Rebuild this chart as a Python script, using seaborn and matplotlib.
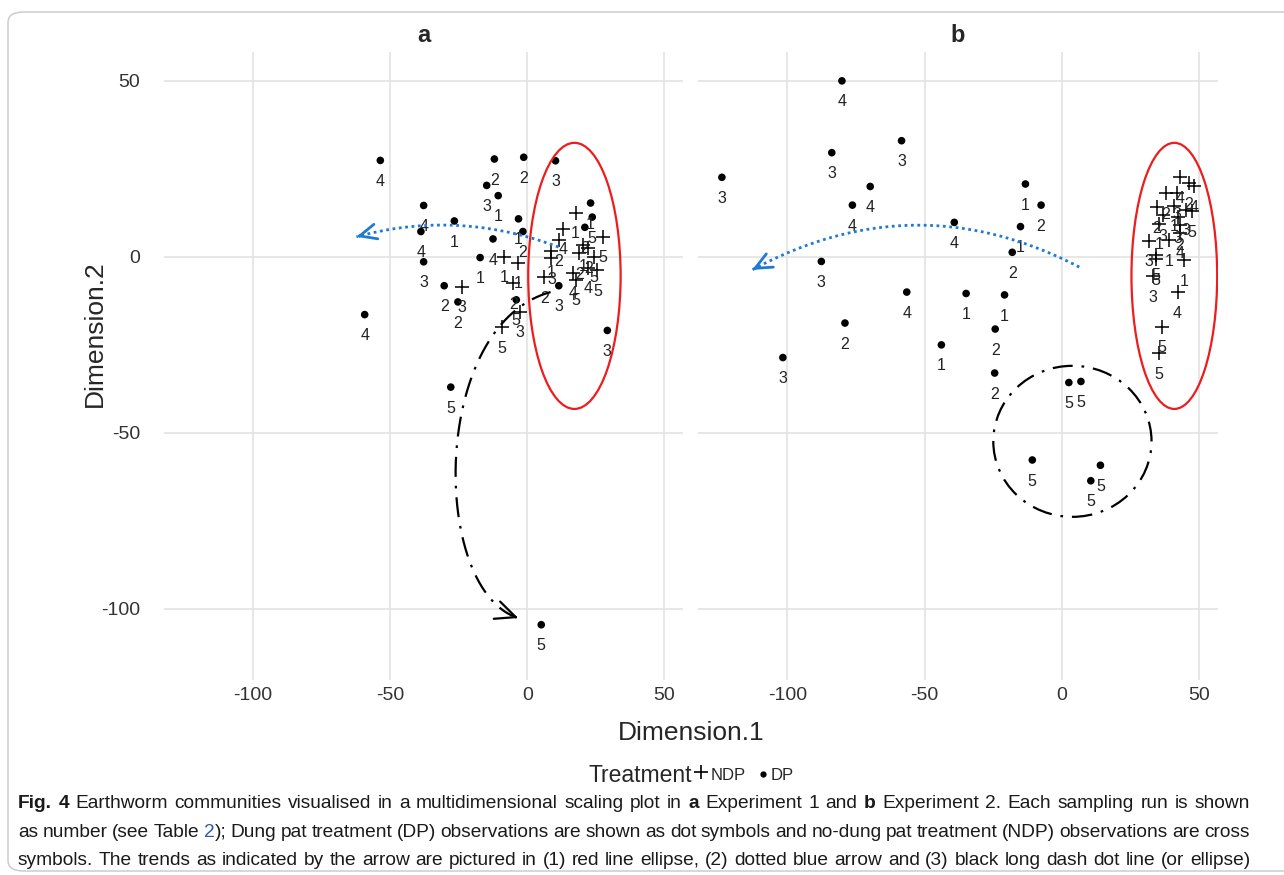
import numpy as np
import pandas as pd
import matplotlib
matplotlib.use("Agg")
import matplotlib.pyplot as plt
import seaborn as sns
from matplotlib.patches import Ellipse, FancyBboxPatch
from matplotlib.lines import Line2D

# ---------------- data ----------------
a_dp_x = [-53.6, -12.0, -14.8, -1.3, 10.3, -10.6, -37.8, -26.6, -3.2, -1.6, -38.8, -12.5, -37.8,
          -17.2, -30.3, -25.3, -59.3, -4.0, -27.9, 5.1, 29.2, 23.1, 23.7, 21.0, 11.5]
a_dp_y = [27.4, 27.8, 20.3, 28.3, 27.3, 17.4, 14.6, 10.2, 10.8, 7.2, 7.2, 5.1, -1.4,
          -0.2, -8.2, -12.8, -16.4, -12.2, -37.0, -104.5, -20.9, 15.3, 11.3, 8.4, -8.2]
a_dp_run = [4, 2, 3, 2, 3, 1, 4, 1, 1, 2, 4, 4, 3, 1, 2, 2, 4, 5, 5, 5, 3, 1, 5, 2, 3]

a_ndp_x = [-23.8, -8.4, -3.3, -5.1, -2.6, -9.2, 6.2, 8.8, 8.8, 11.4, 13.2, 17.6, 27.5,
           22.3, 19.0, 24.2, 22.3, 25.6, 16.8, 17.6, 20.5]
a_ndp_y = [-8.5, 0.0, -1.7, -7.4, -15.6, -19.9, -5.7, 1.7, -0.3, 4.8, 8.0, 12.5, 5.7,
           2.6, 1.1, 0.0, -3.1, -3.7, -4.5, -6.5, 3.4]
a_ndp_run = [3, 1, 1, 2, 3, 5, 2, 1, 3, 2, 4, 1, 5, 2, 2, 5, 4, 5, 4, 5, 1]

b_dp_x = [-80.1, -58.4, -83.8, -123.8, -69.8, -76.3, -13.3, -7.6, -15.1, -39.2, -18.1, -87.6, -56.5,
          -34.9, -20.9, -79.0, -24.3, -43.9, -24.5, -101.6, 2.5, 6.9, -10.8, 14.0, 10.5]
b_dp_y = [50.0, 33.0, 29.6, 22.6, 20.0, 14.7, 20.7, 14.7, 8.6, 9.8, 1.3, -1.3, -10.0,
          -10.4, -10.8, -18.8, -20.5, -25.0, -33.0, -28.6, -35.7, -35.4, -57.7, -59.2, -63.6]
b_dp_run = [4, 3, 3, 3, 4, 4, 1, 2, 1, 4, 2, 3, 4, 1, 1, 2, 2, 1, 2, 3, 5, 5, 5, 5, 5]

b_ndp_x = [43.1, 46.1, 48.2, 37.9, 41.8, 34.5, 40.9, 45.2, 47.4, 36.7, 35.5, 42.8, 42.1,
           39.1, 31.6, 43.1, 34.3, 34.3, 44.6, 33.1, 42.1, 36.5, 35.3]
b_ndp_y = [22.6, 20.9, 20.0, 18.1, 18.1, 14.1, 14.5, 13.4, 12.9, 11.9, 9.4, 9.1, 11.3,
           4.8, 4.6, 6.9, 0.6, -0.7, -0.9, -5.4, -10.1, -19.8, -27.4]
b_ndp_run = [4, 2, 4, 2, 3, 2, 1, 3, 5, 3, 1, 2, 3, 1, 3, 4, 5, 5, 1, 3, 4, 5, 5]

x_ticks = [-100, -50, 0, 50]
y_ticks = [-100, -50, 0, 50]

frames = []
for exp, tr, xs, ys, rs in [("a", "DP", a_dp_x, a_dp_y, a_dp_run),
                            ("a", "NDP", a_ndp_x, a_ndp_y, a_ndp_run),
                            ("b", "DP", b_dp_x, b_dp_y, b_dp_run),
                            ("b", "NDP", b_ndp_x, b_ndp_y, b_ndp_run)]:
    frames.append(pd.DataFrame({"Experiment": exp, "Treatment": tr,
                                "Dimension.1": xs, "Dimension.2": ys, "Run": rs}))
df = pd.concat(frames, ignore_index=True)

# ---------------- figure ----------------
sns.set_theme(style="white")
plt.rcParams["font.family"] = ["Liberation Sans", "DejaVu Sans"]

W, H = 1284, 875
fig = plt.figure(figsize=(W / 100, H / 100), dpi=100)
fig.patch.set_facecolor("white")


def fr(l, t, r, b):
    return [l / W, 1 - b / H, (r - l) / W, (b - t) / H]


# caption frame
fig.add_artist(FancyBboxPatch((8 / W, 1 - 871 / H), 1300 / W, 859 / H,
                              boxstyle="round,pad=0,rounding_size=0.012",
                              transform=fig.transFigure, fill=False,
                              edgecolor="#c8c8c8", linewidth=1.0))

axA = fig.add_axes(fr(164, 52, 683, 680))
axB = fig.add_axes(fr(698, 52, 1218, 680))
XLIM = (-132.5, 56.8)
YLIM = (-120.2, 58.2)

for ax, exp in [(axA, "a"), (axB, "b")]:
    sub = df[df["Experiment"] == exp]
    dp = sub[sub["Treatment"] == "DP"]
    ndp = sub[sub["Treatment"] == "NDP"]
    sns.scatterplot(data=dp, x="Dimension.1", y="Dimension.2", marker="o", s=30,
                    color="black", edgecolor="none", ax=ax, legend=False, zorder=3)
    sns.scatterplot(data=ndp, x="Dimension.1", y="Dimension.2", marker="+", s=105,
                    color="black", linewidth=1.1, ax=ax, legend=False, zorder=3)
    for _, r in sub.iterrows():
        ax.text(r["Dimension.1"], r["Dimension.2"] - 6.0, str(r["Run"]), ha="center",
                va="center", fontsize=11.5, color="#222222", zorder=3)
    ax.set_xlim(*XLIM)
    ax.set_ylim(*YLIM)
    ax.set_xticks(x_ticks)
    ax.set_yticks(y_ticks)
    ax.set_xticklabels([str(v) for v in x_ticks])
    ax.grid(True, color="#e3e3e3", linewidth=1.2)
    ax.set_axisbelow(True)
    for s in ax.spines.values():
        s.set_visible(False)
    ax.tick_params(axis="both", length=0, labelsize=14, labelcolor="#333333")
    ax.tick_params(axis="x", pad=5)
    ax.tick_params(axis="y", pad=17)
    ax.set_xlabel("")
    ax.set_ylabel("")
    ax.set_facecolor("white")

axA.set_yticklabels([str(v) for v in y_ticks])
axB.set_yticklabels([])


def bez(P, n=300):
    P = np.asarray(P, float)
    t = np.linspace(0, 1, n)[:, None]
    if len(P) == 3:
        return (1 - t) ** 2 * P[0] + 2 * t * (1 - t) * P[1] + t ** 2 * P[2]
    return ((1 - t) ** 3 * P[0] + 3 * (1 - t) ** 2 * t * P[1]
            + 3 * (1 - t) * t ** 2 * P[2] + t ** 3 * P[3])


def curved_arrow(ax, P, color, ls, lw, hl, hw):
    c = bez(P)
    ax.plot(c[:, 0], c[:, 1], color=color, ls=ls, lw=lw, zorder=4,
            solid_capstyle="butt", dash_capstyle="butt")
    ax.annotate("", xy=(c[-1, 0], c[-1, 1]), xytext=(c[-6, 0], c[-6, 1]),
                arrowprops=dict(arrowstyle=f"->,head_length={hl},head_width={hw}",
                                color=color, lw=lw, shrinkA=0, shrinkB=0), zorder=4)


blue = "#1f7ad1"
dashdot = (0, (9, 4, 1.2, 4))

# panel a annotations
axA.add_patch(Ellipse((17.2, -5.4), 33.7, 75.6, fill=False, edgecolor="#ee1c1c", lw=1.6, zorder=4))
curved_arrow(axA, [(11.4, 2.8), (-25.5, 13.6), (-62.3, 5.7)], blue, (0, (1, 1.3)), 2.0, 1.0, 0.45)
curved_arrow(axA, [(8.5, -10.0), (-35.5, -19.3), (-35.5, -94.6), (-3.3, -102.6)],
             "black", dashdot, 1.6, 1.2, 0.55)

# panel b annotations
axB.add_patch(Ellipse((40.9, -5.4), 31.2, 75.6, fill=False, edgecolor="#ee1c1c", lw=1.6, zorder=4))
curved_arrow(axB, [(6.3, -2.9), (-53.4, 21.3), (-112.8, -3.7)], blue, (0, (1, 1.3)), 2.0, 1.0, 0.45)
axB.add_patch(Ellipse((3.8, -52.4), 57.6, 42.9, fill=False, edgecolor="black", lw=1.6,
                      ls=dashdot, zorder=4))

# facet titles & axis titles
fig.text(423.5 / W, 1 - 35 / H, "a", ha="center", va="center", fontsize=17, fontweight="bold")
fig.text(958 / W, 1 - 35 / H, "b", ha="center", va="center", fontsize=17, fontweight="bold")
fig.text(691 / W, 1 - 733 / H, "Dimension.1", ha="center", va="center", fontsize=19)
fig.text(95 / W, 1 - 334 / H, "Dimension.2", ha="center", va="center", fontsize=19, rotation=90)

# legend
fig.text(640 / W, 1 - 776 / H, "Treatment", ha="center", va="center", fontsize=16.5)
fig.add_artist(Line2D([701 / W], [1 - 772 / H], marker="+", ms=10, mew=1.2, color="black",
                      transform=fig.transFigure))
fig.text(711 / W, 1 - 775 / H, "NDP", ha="left", va="center", fontsize=12)
fig.add_artist(Line2D([763 / W], [1 - 774 / H], marker="o", ms=4.5, mew=0, color="black",
                      transform=fig.transFigure))
fig.text(771 / W, 1 - 775 / H, "DP", ha="left", va="center", fontsize=12)

# caption (justified)
cap_fam = ["Liberation Sans Narrow", "Liberation Sans", "DejaVu Sans"]
B = "bold"
N = "normal"
line1 = [[("Fig.", B)], [("4", B)], [("Earthworm", N)], [("communities", N)], [("visualised", N)],
         [("in", N)], [("a", N)], [("multidimensional", N)], [("scaling", N)], [("plot", N)],
         [("in", N)], [("a", B)], [("Experiment", N)], [("1", N)], [("and", N)], [("b", B)],
         [("Experiment", N)], [("2.", N)], [("Each", N)], [("sampling", N)], [("run", N)],
         [("is", N)], [("shown", N)]]
line2_text = ("as number (see Table ¤); Dung pat treatment (DP) observations are shown as dot "
              "symbols and no-dung pat treatment (NDP) observations are cross")
line3_text = ("symbols. The trends as indicated by the arrow are pictured in (1) red line ellipse, "
              "(2) dotted blue arrow and (3) black long dash dot line (or ellipse)")
line2 = []
for w in line2_text.split(" "):
    if w == "¤);":
        line2.append([("2", "link"), (");", N)])
    else:
        line2.append([(w, N)])
line3 = [[(w, N)] for w in line3_text.split(" ")]
lines = [(line1, 808), (line2, 837), (line3, 865)]

renderer = fig.canvas.get_renderer()
x0, x1 = 18, 1250
base_size = 10.0


def make_runs(line, size):
    out = []
    for word in line:
        wt = []
        for txt, kind in word:
            color = "#2a5db0" if kind == "link" else "#1a1a1a"
            weight = "bold" if kind == B else "normal"
            t = fig.text(0, 0, txt, fontsize=size, fontweight=weight, color=color,
                         family=cap_fam, ha="left", va="baseline")
            wt.append(t)
        out.append(wt)
    return out


def widths(runs):
    return [[t.get_window_extent(renderer).width for t in w] for w in runs]


# find font size so that the longest line with natural spacing fits
probe = make_runs(line3, base_size)
space_probe = fig.text(0, 0, "a a", fontsize=base_size, family=cap_fam)
aa = fig.text(0, 0, "aa", fontsize=base_size, family=cap_fam)
sp = space_probe.get_window_extent(renderer).width - aa.get_window_extent(renderer).width
nat = sum(sum(w) for w in widths(probe)) + sp * (len(probe) - 1)
for w in probe:
    for t in w:
        t.remove()
space_probe.remove()
aa.remove()
size = base_size * (x1 - x0) / nat

for line, yb in lines:
    runs = make_runs(line, size)
    ws = widths(runs)
    total = sum(sum(w) for w in ws)
    gap = (x1 - x0 - total) / (len(runs) - 1)
    x = x0
    for wrun, wws in zip(runs, ws):
        for t, wi in zip(wrun, wws):
            t.set_position((x / W, 1 - yb / H))
            x += wi
        x += gap

fig.savefig("out.png", dpi=100, facecolor="white")
